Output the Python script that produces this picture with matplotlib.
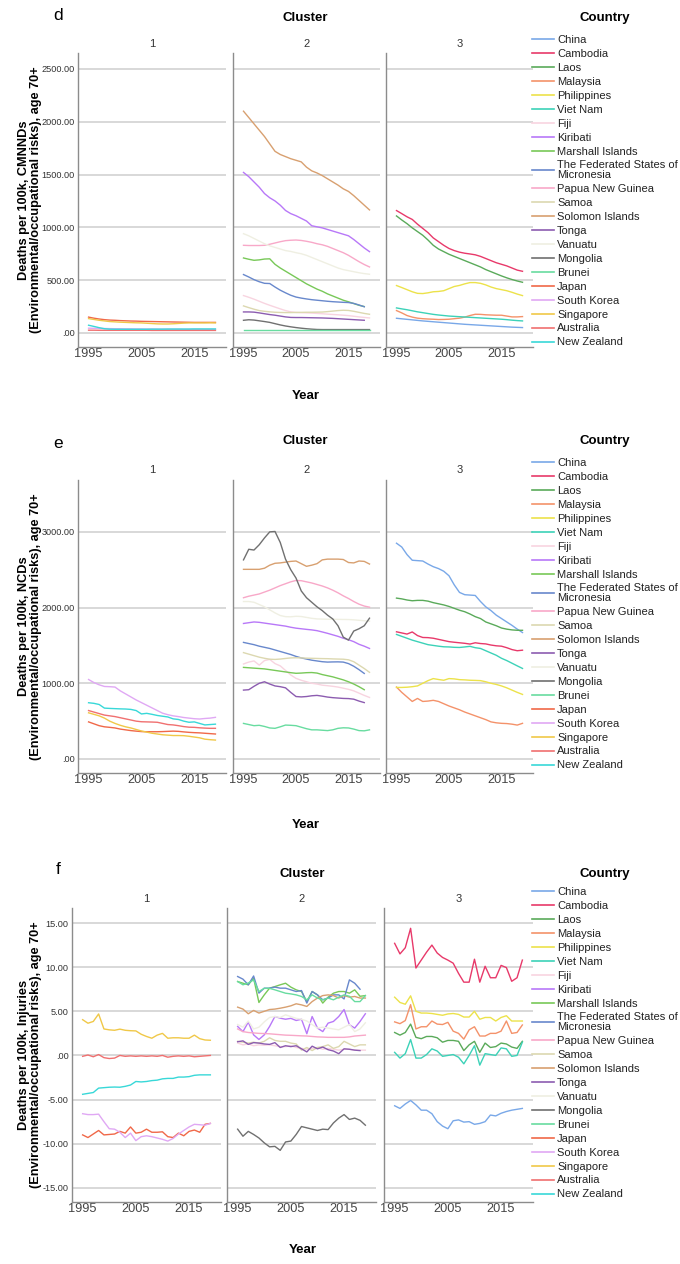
import matplotlib
matplotlib.use('Agg')
import matplotlib.pyplot as plt
from matplotlib.lines import Line2D

plt.rcParams['font.family'] = ['Liberation Sans', 'DejaVu Sans']

# ---------------- data ----------------
years = list(range(1995, 2020))

countries = ["China", "Cambodia", "Laos", "Malaysia", "Philippines", "Viet Nam",
             "Fiji", "Kiribati", "Marshall Islands", "The Federated States of Micronesia",
             "Papua New Guinea", "Samoa", "Solomon Islands", "Tonga", "Vanuatu",
             "Mongolia", "Brunei", "Japan", "South Korea", "Singapore", "Australia",
             "New Zealand"]
colors = ["#79a8e8", "#e8396a", "#5aaa5a", "#f4926a", "#ece24a", "#3cd2b8",
          "#f8d4e0", "#b878f8", "#78c858", "#6888cc",
          "#f8a8c8", "#dcd8b0", "#d8a070", "#8c5cb0", "#efefe2",
          "#707070", "#68dca0", "#f06848", "#e0a8f4", "#f0c848", "#f07070",
          "#38d8d8"]

cluster1 = ["Japan", "South Korea", "Singapore", "Australia", "New Zealand"]
cluster2 = ["Fiji", "Kiribati", "Marshall Islands", "The Federated States of Micronesia",
            "Papua New Guinea", "Samoa", "Solomon Islands", "Tonga", "Vanuatu",
            "Mongolia", "Brunei"]
cluster3 = ["China", "Cambodia", "Laos", "Malaysia", "Philippines", "Viet Nam"]

# d: CMNNDs
cmnnd_china = [139,134,129,124,119,114,110,106,102,98,94,90,86,82,79,76,73,70,67,64,61,58,55,53,51]
cmnnd_cambodia = [1159,1130,1100,1075,1030,990,950,900,865,830,800,780,765,755,748,740,725,705,685,665,650,635,615,595,584]
cmnnd_laos = [1108,1070,1035,995,960,925,880,830,795,770,745,725,705,685,665,645,625,600,580,560,540,522,506,492,480]
cmnnd_malaysia = [212,190,165,150,140,135,132,130,127,128,130,135,140,150,165,177,176,172,170,168,168,160,152,152,155]
cmnnd_philippines = [449,430,410,390,375,373,380,390,393,400,420,440,450,465,477,477,470,455,435,420,410,400,385,368,354]
cmnnd_vietnam = [237,228,220,210,200,192,184,176,170,165,160,157,154,151,148,145,142,139,136,133,130,126,121,117,114]
cmnnd_fiji = [354,338,320,300,280,262,245,228,212,200,194,192,190,188,185,182,178,175,172,168,164,158,152,147,142]
cmnnd_kiribati = [1520,1480,1430,1380,1320,1280,1250,1210,1160,1130,1110,1085,1060,1015,1005,995,980,965,950,935,920,885,845,805,770]
cmnnd_marshall = [710,698,688,692,700,702,650,615,585,555,525,495,465,440,415,395,370,350,330,310,295,278,262,250]
cmnnd_micronesia = [553,530,505,485,470,468,435,405,380,357,340,330,322,315,310,305,300,296,293,290,288,280,265,248]
cmnnd_png = [830,828,828,828,830,840,852,864,874,878,880,876,868,858,845,835,820,800,780,760,735,705,675,648,625]
cmnnd_samoa = [256,240,225,212,205,200,196,194,193,193,194,195,196,196,197,198,202,207,212,215,213,205,195,185,177]
cmnnd_solomon = [2100,2040,1980,1920,1860,1790,1720,1690,1670,1650,1635,1620,1570,1535,1515,1490,1460,1430,1400,1365,1340,1300,1255,1210,1165]
cmnnd_tonga = [199,199,197,190,182,174,168,160,152,147,146,146,145,144,143,142,140,138,135,132,129,126,123,120]
cmnnd_vanuatu = [940,920,895,870,845,825,810,795,780,772,760,750,735,715,695,675,655,635,615,600,590,580,570,562,556]
cmnnd_mongolia = [120,125,122,115,108,100,88,76,66,58,51,45,40,36,33,32,32,32,32,32,32,32,32,32,32]
cmnnd_brunei = [30,30,30,30,30,30,30,30,30,30,30,30,30,30,30,30,30,30,30,30,30,30,30,30,30]
cmnnd_japan = [150,140,132,126,122,120,117,115,113,112,110,109,108,107,106,105,104,103,102,101,100,100,100,100,100]
cmnnd_southkorea = [45,44,43,42,41,40,40,39,39,38,38,37,37,36,36,35,35,35,34,34,34,34,33,33,33]
cmnnd_singapore = [136,128,120,114,108,105,102,100,98,96,95,92,89,86,85,85,87,90,93,95,95,95,95,96,95]
cmnnd_australia = [26,26,25,25,25,25,25,25,25,25,25,25,24,24,24,24,24,24,24,24,24,24,24,24,24]
cmnnd_newzealand = [73,62,50,40,36,35,35,35,35,35,35,35,36,36,36,37,37,37,37,37,38,38,38,38,38]

# e: NCDs
ncd_china = [2850,2800,2700,2625,2620,2615,2575,2540,2515,2480,2420,2300,2200,2170,2165,2160,2080,2010,1960,1900,1855,1810,1765,1715,1670]
ncd_cambodia = [1680,1665,1650,1678,1630,1605,1603,1595,1580,1565,1550,1542,1535,1528,1518,1535,1525,1520,1505,1495,1490,1470,1445,1430,1437]
ncd_laos = [2125,2115,2100,2090,2095,2095,2085,2065,2050,2035,2015,1990,1965,1945,1915,1880,1855,1810,1785,1760,1730,1715,1705,1700,1700]
ncd_malaysia = [950,880,820,760,800,760,765,775,760,730,700,675,650,620,595,570,545,520,490,478,471,468,460,448,471]
ncd_philippines = [945,945,948,955,965,1000,1035,1062,1050,1040,1062,1058,1048,1045,1040,1038,1035,1020,1000,985,965,940,910,880,853]
ncd_vietnam = [1645,1620,1595,1570,1550,1530,1510,1500,1490,1482,1480,1475,1473,1480,1488,1470,1460,1430,1400,1370,1330,1300,1265,1230,1196]
ncd_fiji = [1255,1280,1295,1240,1300,1315,1260,1230,1170,1110,1065,1040,1020,1000,990,975,968,960,950,935,920,900,870,840,813]
ncd_kiribati = [1790,1800,1810,1805,1795,1785,1775,1765,1755,1740,1728,1720,1712,1705,1695,1678,1660,1640,1620,1595,1575,1550,1515,1490,1460]
ncd_marshall = [1210,1205,1200,1195,1190,1180,1170,1160,1150,1140,1132,1135,1140,1142,1135,1115,1100,1085,1065,1045,1020,990,955,915]
ncd_micronesia = [1540,1525,1510,1490,1475,1460,1440,1420,1400,1380,1355,1335,1320,1305,1295,1285,1280,1282,1283,1280,1260,1225,1180,1130]
ncd_png = [2130,2150,2165,2180,2205,2230,2260,2290,2315,2340,2358,2355,2340,2325,2305,2285,2260,2230,2195,2155,2120,2080,2045,2020,2005]
ncd_samoa = [1405,1385,1365,1345,1330,1318,1315,1320,1328,1335,1337,1335,1332,1330,1328,1326,1325,1322,1320,1318,1310,1285,1240,1195,1145]
ncd_solomon = [2505,2505,2505,2505,2520,2560,2585,2590,2600,2610,2615,2580,2545,2560,2580,2630,2640,2640,2640,2635,2595,2590,2615,2610,2575]
ncd_tonga = [910,915,960,1000,1020,990,965,955,940,880,825,820,825,835,840,830,818,810,805,800,798,790,765,745]
ncd_vanuatu = [2080,2080,2070,2040,2010,1970,1930,1895,1880,1878,1885,1882,1870,1858,1850,1848,1846,1845,1844,1843,1842,1838,1832,1826,1820]
ncd_mongolia = [2630,2770,2760,2830,2920,3000,3005,2860,2640,2500,2390,2220,2130,2070,2010,1960,1900,1850,1760,1610,1570,1690,1720,1760,1860]
ncd_brunei = [470,455,440,445,430,410,405,425,448,445,440,420,400,385,385,380,375,385,405,412,410,395,375,372,385]
ncd_japan = [490,465,440,425,418,410,395,385,375,368,362,360,360,360,362,365,368,365,358,352,348,345,340,335,330]
ncd_southkorea = [1050,1010,980,958,955,950,900,860,820,780,745,710,675,640,605,585,570,560,548,540,532,528,535,540,550]
ncd_singapore = [610,590,570,540,500,470,445,425,410,390,370,355,340,330,320,315,310,310,308,300,290,280,262,255,250]
ncd_australia = [640,620,600,580,570,560,545,530,515,500,492,490,488,485,470,455,450,440,428,420,418,412,408,405,405]
ncd_newzealand = [743,735,720,672,668,665,662,660,655,640,595,603,590,575,565,555,530,522,500,485,490,470,450,455,460]

# f: Injuries
inj_china = [-5.7,-6.0,-5.5,-5.1,-5.6,-6.2,-6.2,-6.6,-7.5,-8.0,-8.3,-7.4,-7.3,-7.55,-7.5,-7.8,-7.7,-7.5,-6.75,-6.85,-6.55,-6.35,-6.2,-6.1,-6.0]
inj_cambodia = [12.7,11.5,12.2,14.4,9.9,10.8,11.7,12.5,11.6,11.1,10.8,10.45,9.3,8.3,8.3,10.9,8.3,10.1,8.8,8.8,10.2,9.95,8.4,8.8,10.8]
inj_laos = [2.6,2.3,2.6,3.55,2.05,1.9,2.15,2.15,2.0,1.5,1.7,1.7,1.6,0.55,1.2,1.6,0.35,1.4,0.9,1.0,1.4,1.3,0.95,0.8,1.6]
inj_malaysia = [3.8,3.6,3.95,5.75,3.0,3.25,3.25,3.9,3.55,3.5,3.75,2.75,2.5,1.85,2.9,3.25,2.2,2.2,2.5,2.5,2.75,3.9,2.5,2.6,3.45]
inj_philippines = [6.6,6.0,5.8,6.75,5.0,4.8,4.8,4.75,4.65,4.55,4.7,4.75,4.65,4.35,4.35,5.0,4.1,4.3,4.3,3.9,4.3,4.5,3.9,3.9,3.9]
inj_vietnam = [0.35,-0.3,0.2,1.8,-0.3,-0.3,0.1,0.75,0.5,-0.1,0.0,0.1,-0.2,-0.95,0.0,1.1,-1.1,0.2,0.1,0.0,0.85,0.75,-0.1,0.0,1.5]
inj_fiji = [1.4,1.2,1.3,1.1,1.2,1.15,1.2,1.1,1.0,1.0,1.1,0.9,0.8,0.7,0.8,0.9,0.7,0.8,0.7,0.6,0.7,0.7,0.6,0.6,0.6]
inj_kiribati = [3.28,2.7,3.77,2.33,1.81,2.33,3.28,4.41,4.22,4.1,4.2,3.96,4.1,2.46,4.41,3.1,2.7,3.66,3.85,4.41,5.2,3.47,3.1,3.85,4.72]
inj_marshall = [8.37,8.18,8.0,8.75,6.0,6.86,7.62,7.8,8.0,8.18,7.74,7.43,7.24,6.1,7.24,6.86,5.93,6.6,7.05,7.24,7.24,7.05,7.43,6.7,6.78]
inj_micronesia = [8.94,8.64,8.0,9.0,7.06,7.62,7.62,7.74,7.62,7.62,7.43,7.24,7.35,5.93,7.24,6.86,6.3,6.5,6.86,6.86,6.4,8.56,8.18,7.5]
inj_png = [3.0,2.7,2.6,2.55,2.5,2.48,2.45,2.4,2.35,2.3,2.28,2.25,2.22,2.2,2.15,2.1,2.08,2.05,2.05,2.05,2.05,2.1,2.2,2.25,2.3]
inj_samoa = [1.6,1.5,1.4,1.5,1.4,1.6,2.0,1.7,1.6,1.6,1.4,1.3,0.6,0.9,0.55,0.9,1.0,1.2,0.8,1.0,1.6,1.3,1.0,1.2,1.2]
inj_solomon = [5.47,5.25,4.72,5.1,4.8,5.0,5.2,5.25,5.35,5.47,5.62,5.85,5.73,5.55,6.1,6.5,6.78,6.86,6.78,6.5,6.78,6.6,6.68,6.5,6.5]
inj_tonga = [1.55,1.65,1.25,1.45,1.4,1.3,1.25,1.45,0.9,1.1,1.0,1.1,0.75,0.4,1.05,0.75,0.95,0.65,0.5,0.2,0.75,0.7,0.6,0.55]
inj_vanuatu = [3.5,3.2,3.9,3.0,3.2,3.8,4.3,4.4,4.3,4.6,4.4,4.2,4.1,3.9,3.5,3.1,3.2,3.1,3.0,2.9,3.2,3.5,2.7,3.0,3.7]
inj_mongolia = [-8.35,-9.15,-8.6,-8.95,-9.35,-9.9,-10.35,-10.3,-10.75,-9.8,-9.7,-8.95,-8.05,-8.2,-8.35,-8.5,-8.35,-8.4,-7.65,-7.1,-6.7,-7.25,-7.1,-7.35,-7.9]
inj_brunei = [8.37,8.0,8.2,8.56,7.24,7.6,7.6,7.43,7.24,7.05,6.97,6.86,6.68,6.3,6.86,6.5,6.3,6.5,6.3,6.6,6.86,6.7,6.1,6.1,6.78]
inj_japan = [-9.0,-9.3,-8.9,-8.5,-9.0,-8.95,-8.9,-8.6,-8.8,-8.1,-8.8,-8.7,-8.35,-8.7,-8.7,-8.65,-9.2,-9.3,-8.8,-9.1,-8.6,-8.45,-8.7,-7.8,-7.7]
inj_southkorea = [-6.6,-6.7,-6.7,-6.65,-7.5,-8.3,-8.35,-8.7,-9.3,-8.8,-9.65,-9.2,-9.1,-9.2,-9.35,-9.5,-9.7,-9.4,-8.9,-8.5,-8.1,-7.8,-7.85,-7.9,-7.7]
inj_singapore = [4.05,3.65,3.85,4.7,3.0,2.9,2.85,2.98,2.85,2.8,2.78,2.4,2.15,1.95,2.3,2.5,1.95,2.0,2.0,1.95,1.95,2.3,1.9,1.75,1.72]
inj_australia = [-0.1,0.05,-0.15,0.1,-0.25,-0.35,-0.3,0.0,-0.1,-0.05,-0.1,-0.05,-0.1,-0.05,-0.1,0.0,-0.2,-0.1,-0.05,-0.1,-0.05,-0.15,-0.1,-0.05,0.0]
inj_newzealand = [-4.4,-4.3,-4.2,-3.7,-3.65,-3.6,-3.58,-3.6,-3.5,-3.35,-2.95,-3.0,-2.95,-2.85,-2.8,-2.65,-2.6,-2.6,-2.45,-2.45,-2.4,-2.25,-2.2,-2.2,-2.2]

cmnnd = dict(zip(countries, [cmnnd_china, cmnnd_cambodia, cmnnd_laos, cmnnd_malaysia, cmnnd_philippines,
    cmnnd_vietnam, cmnnd_fiji, cmnnd_kiribati, cmnnd_marshall, cmnnd_micronesia, cmnnd_png, cmnnd_samoa,
    cmnnd_solomon, cmnnd_tonga, cmnnd_vanuatu, cmnnd_mongolia, cmnnd_brunei, cmnnd_japan, cmnnd_southkorea,
    cmnnd_singapore, cmnnd_australia, cmnnd_newzealand]))
ncd = dict(zip(countries, [ncd_china, ncd_cambodia, ncd_laos, ncd_malaysia, ncd_philippines,
    ncd_vietnam, ncd_fiji, ncd_kiribati, ncd_marshall, ncd_micronesia, ncd_png, ncd_samoa,
    ncd_solomon, ncd_tonga, ncd_vanuatu, ncd_mongolia, ncd_brunei, ncd_japan, ncd_southkorea,
    ncd_singapore, ncd_australia, ncd_newzealand]))
inj = dict(zip(countries, [inj_china, inj_cambodia, inj_laos, inj_malaysia, inj_philippines,
    inj_vietnam, inj_fiji, inj_kiribati, inj_marshall, inj_micronesia, inj_png, inj_samoa,
    inj_solomon, inj_tonga, inj_vanuatu, inj_mongolia, inj_brunei, inj_japan, inj_southkorea,
    inj_singapore, inj_australia, inj_newzealand]))
color_of = dict(zip(countries, colors))
legend_labels = [("The Federated States of\nMicronesia" if c.startswith("The Federated") else c) for c in countries]

# ---------------- figure ----------------
W, H = 680, 1264
fig = plt.figure(figsize=(W / 100, H / 100), dpi=100)


def T(x, y, s, **kw):
    fig.text(x / W, 1 - y / H, s, **kw)


def fmt(v):
    if abs(v) < 1e-9:
        return ".00"
    return f"{v:.2f}"


panels = [
    dict(letter="d", data=cmnnd, top=53, bot=347, ylim=(-133, 2651),
         yticks=[0, 500, 1000, 1500, 2000, 2500],
         facets=[(78, 226), (233, 380), (386, 533)],
         ylabel="Deaths per 100k, CMNNDs\n(Environmental/occupational risks), age 70+",
         letter_y=15, cluster_y=18, ft_y=44, year_y=396, leg_y=35),
    dict(letter="e", data=ncd, top=480, bot=773, ylim=(-185, 3685),
         yticks=[0, 1000, 2000, 3000],
         facets=[(78, 226), (233, 380), (386, 533)],
         ylabel="Deaths per 100k, NCDs\n(Environmental/occupational risks), age 70+",
         letter_y=443, cluster_y=441, ft_y=470, year_y=825, leg_y=458),
    dict(letter="f", data=inj, top=908, bot=1202, ylim=(-16.6, 16.7),
         yticks=[-15, -10, -5, 0, 5, 10, 15],
         facets=[(72, 221), (227, 376), (384, 533)],
         ylabel="Deaths per 100k, Injuries\n(Environmental/occupational risks), age 70+",
         letter_y=869, cluster_y=874, ft_y=899, year_y=1250, leg_y=887),
]
members = [cluster1, cluster2, cluster3]

for p in panels:
    for k, (x0, x1) in enumerate(p["facets"]):
        ax = fig.add_axes([x0 / W, 1 - p["bot"] / H, (x1 - x0) / W, (p["bot"] - p["top"]) / H])
        ax.set_xlim(1993, 2021)
        ax.set_ylim(*p["ylim"])
        ax.set_yticks(p["yticks"])
        ax.set_xticks([1995, 2005, 2015])
        ax.grid(axis="y", color="#d2d2d2", lw=1.2)
        ax.set_axisbelow(True)
        for s in ("top", "right"):
            ax.spines[s].set_visible(False)
        for s in ("left", "bottom"):
            ax.spines[s].set_color("#8c8c8c")
            ax.spines[s].set_linewidth(1.0)
        ax.tick_params(length=0)
        ax.tick_params(axis="x", labelsize=9.2, labelcolor="#444444", pad=1)
        if k == 0:
            ax.set_yticklabels([fmt(v) for v in p["yticks"]])
            ax.tick_params(axis="y", labelsize=6.6, labelcolor="#333333", pad=2.5)
        else:
            ax.set_yticklabels([])
        for c in members[k]:
            vals = p["data"][c]
            ax.plot(years[:len(vals)], vals, color=color_of[c], lw=1.0)
        T((x0 + x1) / 2, p["ft_y"], str(k + 1), ha="center", va="center", fontsize=8, color="#333333")

    cx = (p["facets"][0][0] + p["facets"][2][1]) / 2
    T(58, p["letter_y"], p["letter"], ha="center", va="center", fontsize=12.5)
    T(cx, p["cluster_y"], "Cluster", ha="center", va="center", fontsize=9.5, fontweight="bold")
    T(cx, p["year_y"], "Year", ha="center", va="center", fontsize=9.5, fontweight="bold")
    T(30, (p["top"] + p["bot"]) / 2, p["ylabel"], ha="center", va="center", rotation=90,
      fontsize=9.2, fontweight="bold", linespacing=0.95, multialignment="center")
    T(605, p["cluster_y"], "Country", ha="center", va="center", fontsize=9.5, fontweight="bold")

    handles = [Line2D([], [], color=col, lw=1.2) for col in colors]
    leg = fig.legend(handles, legend_labels, loc="upper left",
                     bbox_to_anchor=(532 / W, 1 - p["leg_y"] / H), frameon=False,
                     fontsize=8, handlelength=2.0, handletextpad=0.25,
                     labelspacing=0.355, borderpad=0, borderaxespad=0)
    for t in leg.get_texts():
        t.set_linespacing(0.95)
        t.set_color("#222222")

fig.savefig("out.png", dpi=100)
